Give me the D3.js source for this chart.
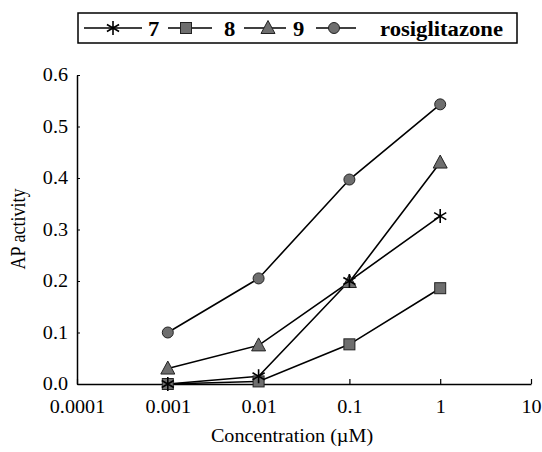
<!DOCTYPE html>
<html><head><meta charset="utf-8">
<script src="https://cdn.jsdelivr.net/npm/d3@7"></script>
<style>
body{margin:0;background:#fff;}
svg{display:block;}
</style></head>
<body><svg id="c" width="542" height="452"></svg>
<script>
const concentrations = [0.001, 0.01, 0.1, 1];
const seriesNames = ["7", "8", "9", "rosiglitazone"];
const values7 = [0.0, 0.015, 0.2, 0.326];
const values8 = [0.0, 0.005, 0.077, 0.186];
const values9 = [0.03, 0.075, 0.198, 0.43];
const valuesRosi = [0.1, 0.205, 0.397, 0.543];
const xTicks = [0.0001, 0.001, 0.01, 0.1, 1, 10];
const xTickLabels = ["0.0001", "0.001", "0.01", "0.1", "1", "10"];
const yTicks = [0, 0.1, 0.2, 0.3, 0.4, 0.5, 0.6];
const yTickLabels = ["0.0", "0.1", "0.2", "0.3", "0.4", "0.5", "0.6"];

const series = [
  {name: seriesNames[0], values: values7, marker: "star"},
  {name: seriesNames[1], values: values8, marker: "square"},
  {name: seriesNames[2], values: values9, marker: "triangle"},
  {name: seriesNames[3], values: valuesRosi, marker: "circle"}
];

const FONT = "'Liberation Serif', 'Times New Roman', Times, serif";
const SX = 1.12;
const svg = d3.select("#c");
const x = d3.scaleLog().domain([0.0001, 10]).range([77, 531]);
const y = d3.scaleLinear().domain([0, 0.6]).range([384, 75]);
const fill = "#6e6e6e", stroke = "#222";

// axes
const xAxis = d3.axisBottom(x).tickValues(xTicks).tickFormat((d,i)=>xTickLabels[i]).tickSizeInner(-5).tickSizeOuter(0).tickPadding(16);
const gx = svg.append("g").attr("transform","translate(0,384)").call(xAxis);
gx.attr("font-family", null);
gx.selectAll("text").style("font-family",FONT).style("font-size","18px").attr("fill","#000").attr("transform",`scale(${SX},1)`);
gx.select(".domain").attr("stroke","#000").attr("stroke-width",1.5);
gx.selectAll(".tick line").attr("stroke","#000").attr("stroke-width",1.2);

const yAxis = d3.axisLeft(y).tickValues(yTicks).tickFormat((d,i)=>yTickLabels[i]).tickSizeInner(-3).tickSizeOuter(0).tickPadding(8);
const gy = svg.append("g").attr("transform","translate(77,0)").call(yAxis);
gy.attr("font-family", null);
gy.selectAll("text").style("font-family",FONT).style("font-size","18px").attr("fill","#000").attr("transform",`scale(${SX},1)`);
gy.select(".domain").attr("stroke","#000").attr("stroke-width",1.5);
gy.selectAll(".tick line").attr("stroke","#000").attr("stroke-width",1);

// axis titles
svg.append("text").attr("transform",`translate(292,442) scale(${SX},1)`).attr("text-anchor","middle")
  .style("font-family",FONT).style("font-size","18px").text("Concentration (µM)");
svg.append("text").attr("transform",`translate(25,229) rotate(-90) scale(1,${SX})`).attr("text-anchor","middle")
  .style("font-family",FONT).style("font-size","18px").text("AP activity");

function drawMarker(g, type, cx, cy){
  if(type==="circle"){
    g.append("circle").attr("cx",cx).attr("cy",cy).attr("r",5.5).attr("fill",fill).attr("stroke",stroke).attr("stroke-width",1);
  } else if(type==="square"){
    g.append("rect").attr("x",cx-5.5).attr("y",cy-5.5).attr("width",11).attr("height",11).attr("fill",fill).attr("stroke",stroke).attr("stroke-width",1);
  } else if(type==="triangle"){
    g.append("path").attr("d",`M${cx},${cy-7.5}L${cx+7},${cy+5.5}L${cx-7},${cy+5.5}Z`).attr("fill",fill).attr("stroke",stroke).attr("stroke-width",1);
  } else {
    const r=7;
    const p = [];
    for(let k=0;k<3;k++){
      const a = Math.PI/2 + k*Math.PI/3;
      p.push(`M${cx+r*Math.cos(a)},${cy+r*Math.sin(a)}L${cx-r*Math.cos(a)},${cy-r*Math.sin(a)}`);
    }
    g.append("path").attr("d",p.join("")).attr("stroke","#000").attr("stroke-width",1.6).attr("fill","none");
  }
}

const line = d3.line().x((d,i)=>x(concentrations[i])).y(d=>y(d));
const plot = svg.append("g");
[3,2,1,0].forEach(si=>{
  const s = series[si];
  plot.append("path").attr("d", line(s.values)).attr("fill","none").attr("stroke","#000").attr("stroke-width",1.6);
});
[3,1,2,0].forEach(si=>{
  const s = series[si];
  s.values.forEach((v,i)=>drawMarker(plot, s.marker, x(concentrations[i]), y(v)));
});

// legend
const lg = svg.append("g");
lg.append("rect").attr("x",78).attr("y",13).attr("width",439).attr("height",30).attr("fill","none").attr("stroke","#000").attr("stroke-width",1.5);
const legendItems = [
  {lx1:84, lx2:142, mx:113, tx:148},
  {lx1:168, lx2:212, mx:186, tx:224},
  {lx1:244, lx2:286, mx:268, tx:293},
  {lx1:316, lx2:356, mx:334, tx:380}
];
series.forEach((s,i)=>{
  const it = legendItems[i];
  lg.append("line").attr("x1",it.lx1).attr("x2",it.lx2).attr("y1",28).attr("y2",28).attr("stroke","#000").attr("stroke-width",1.4);
  drawMarker(lg, s.marker, it.mx, 28);
  lg.append("text").attr("transform",`translate(${it.tx},36) scale(1.08,1)`)
    .style("font-family",FONT).style("font-size","21px").style("font-weight","bold").text(s.name);
});
</script></body></html>
